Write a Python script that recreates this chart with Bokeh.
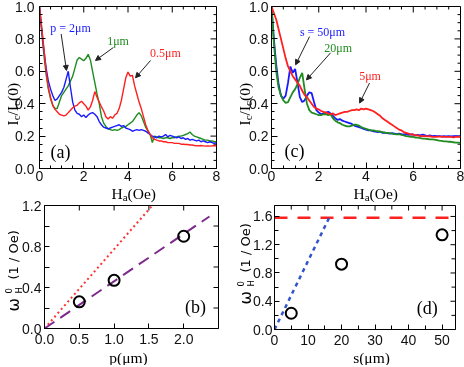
from math import pi
from bokeh.plotting import figure
from bokeh.layouts import row, column
from bokeh.models import (Range1d, FixedTicker, Label, Arrow, NormalHead, PrintfTickFormatter)
from bokeh.embed import file_html
from bokeh.resources import INLINE

# ---------------- data ----------------
H_OE = [0.0, 0.1, 0.2, 0.3, 0.4, 0.5, 0.6, 0.7, 0.8, 0.9,
        1.0, 1.1, 1.2, 1.3, 1.4, 1.5, 1.6, 1.7, 1.8, 1.9,
        2.0, 2.1, 2.2, 2.3, 2.4, 2.5, 2.6, 2.7, 2.8, 2.9,
        3.0, 3.1, 3.2, 3.3, 3.4, 3.5, 3.6, 3.7, 3.8, 3.9,
        4.0, 4.1, 4.2, 4.3, 4.4, 4.5, 4.6, 4.7, 4.8, 4.9,
        5.0, 5.1, 5.2, 5.3, 5.4, 5.5, 5.6, 5.7, 5.8, 5.9,
        6.0, 6.1, 6.2, 6.3, 6.4, 6.5, 6.6, 6.7, 6.8, 6.9,
        7.0, 7.1, 7.2, 7.3, 7.4, 7.5, 7.6, 7.7, 7.8, 7.9, 8.0]

# panel (a): Ic/Ic(0) for p = 2, 1, 0.5 um
IC_P2 = [1.00, 0.86, 0.73, 0.62, 0.54, 0.49, 0.45, 0.42, 0.43, 0.45,
         0.47, 0.50, 0.55, 0.60, 0.50, 0.41, 0.36, 0.34, 0.335, 0.32,
         0.33, 0.315, 0.33, 0.34, 0.345, 0.335, 0.32, 0.29, 0.27, 0.255,
         0.25, 0.245, 0.25, 0.255, 0.26, 0.265, 0.27, 0.26, 0.265, 0.25,
         0.245, 0.24, 0.23, 0.235, 0.24, 0.235, 0.24, 0.235, 0.23, 0.22,
         0.21, 0.20, 0.195, 0.19, 0.20, 0.195, 0.20, 0.21, 0.195, 0.205,
         0.20, 0.195, 0.19, 0.195, 0.185, 0.19, 0.18, 0.185, 0.175, 0.18,
         0.175, 0.17, 0.175, 0.165, 0.17, 0.165, 0.16, 0.165, 0.16, 0.155, 0.16]
IC_P1 = [1.00, 0.84, 0.70, 0.58, 0.49, 0.43, 0.39, 0.37, 0.37, 0.41,
         0.45, 0.47, 0.49, 0.51, 0.54, 0.57, 0.62, 0.67, 0.685, 0.675,
         0.665, 0.68, 0.705, 0.67, 0.60, 0.53, 0.46, 0.40, 0.32, 0.28,
         0.26, 0.245, 0.24, 0.235, 0.24, 0.235, 0.24, 0.25, 0.255, 0.26,
         0.27, 0.28, 0.29, 0.31, 0.33, 0.345, 0.325, 0.29, 0.255, 0.23,
         0.21, 0.16, 0.20, 0.195, 0.19, 0.19, 0.185, 0.19, 0.19, 0.185,
         0.19, 0.19, 0.195, 0.20, 0.20, 0.205, 0.21, 0.215, 0.225, 0.21,
         0.20, 0.195, 0.19, 0.185, 0.18, 0.175, 0.175, 0.17, 0.17, 0.165, 0.165]
IC_P05 = [1.00, 0.87, 0.74, 0.60, 0.50, 0.44, 0.39, 0.365, 0.35, 0.335,
          0.33, 0.325, 0.33, 0.345, 0.36, 0.375, 0.385, 0.39, 0.405, 0.415,
          0.40, 0.385, 0.36, 0.38, 0.42, 0.475, 0.44, 0.41, 0.38, 0.355,
          0.32, 0.305, 0.32, 0.31, 0.33, 0.34, 0.37, 0.42, 0.49, 0.56,
          0.595, 0.57, 0.575, 0.51, 0.46, 0.41, 0.37, 0.32, 0.27, 0.235,
          0.21, 0.19, 0.18, 0.175, 0.17, 0.17, 0.165, 0.165, 0.16, 0.16,
          0.16, 0.155, 0.155, 0.155, 0.15, 0.15, 0.148, 0.148, 0.145, 0.145,
          0.142, 0.14, 0.14, 0.142, 0.14, 0.138, 0.14, 0.138, 0.14, 0.142, 0.14]

# panel (c): Ic/Ic(0) for s = 50, 20, 5 um
IC_S50 = [1.00, 0.80, 0.64, 0.52, 0.45, 0.43, 0.45, 0.53, 0.63, 0.59,
          0.615, 0.53, 0.44, 0.41, 0.42, 0.45, 0.47, 0.465, 0.41, 0.36,
          0.345, 0.335, 0.34, 0.345, 0.35, 0.34, 0.325, 0.31, 0.30, 0.305,
          0.295, 0.29, 0.285, 0.28, 0.275, 0.265, 0.26, 0.255, 0.25, 0.245,
          0.24, 0.235, 0.235, 0.23, 0.228, 0.225, 0.228, 0.22, 0.222, 0.218,
          0.215, 0.218, 0.215, 0.212, 0.215, 0.212, 0.21, 0.212, 0.208, 0.21,
          0.21, 0.205, 0.208, 0.205, 0.21, 0.205, 0.20, 0.205, 0.20, 0.202,
          0.20, 0.20, 0.198, 0.20, 0.198, 0.20, 0.198, 0.20, 0.20, 0.198, 0.20]
IC_S20 = [1.00, 0.78, 0.60, 0.50, 0.45, 0.42, 0.405, 0.41, 0.44, 0.47,
          0.49, 0.52, 0.56, 0.59, 0.49, 0.40, 0.36, 0.345, 0.34, 0.335,
          0.33, 0.33, 0.335, 0.335, 0.33, 0.335, 0.31, 0.295, 0.285, 0.28,
          0.27, 0.265, 0.26, 0.26, 0.265, 0.27, 0.27, 0.265, 0.255, 0.25,
          0.245, 0.24, 0.235, 0.235, 0.232, 0.23, 0.228, 0.225, 0.222, 0.22,
          0.218, 0.215, 0.212, 0.21, 0.212, 0.208, 0.205, 0.20, 0.198, 0.195,
          0.195, 0.19, 0.19, 0.188, 0.185, 0.185, 0.182, 0.18, 0.18, 0.178,
          0.175, 0.172, 0.17, 0.168, 0.168, 0.165, 0.165, 0.162, 0.16, 0.16, 0.158]
IC_S5 = [1.00, 0.96, 0.92, 0.86, 0.80, 0.74, 0.68, 0.63, 0.60, 0.57,
         0.55, 0.53, 0.51, 0.48, 0.455, 0.44, 0.42, 0.40, 0.38, 0.37,
         0.365, 0.355, 0.35, 0.345, 0.34, 0.335, 0.34, 0.33, 0.335, 0.34,
         0.345, 0.35, 0.35, 0.355, 0.36, 0.36, 0.365, 0.36, 0.37, 0.365,
         0.37, 0.365, 0.36, 0.355, 0.345, 0.335, 0.325, 0.31, 0.30, 0.29,
         0.28, 0.27, 0.26, 0.25, 0.24, 0.235, 0.225, 0.22, 0.215, 0.21,
         0.21, 0.205, 0.205, 0.20, 0.20, 0.20, 0.198, 0.20, 0.195, 0.195,
         0.195, 0.198, 0.195, 0.195, 0.195, 0.195, 0.195, 0.192, 0.195, 0.195, 0.195]

# panel (b): omega_H^0 vs p
P_UM = [0.5, 1.0, 2.0]
OMEGA_P = [0.26, 0.47, 0.90]
P_STEEP_X = [0.0, 1.55]
P_STEEP_Y = [0.0, 1.2]
P_FIT_X = [0.0, 2.37]
P_FIT_Y = [0.0, 1.093]

# panel (d): omega_H^0 vs s
S_UM = [5, 20, 50]
OMEGA_S = [0.23, 0.925, 1.34]
S_FIT_X = [0.0, 16.3]
S_FIT_Y = [0.0, 1.58]
S_LIMIT_X = [0.0, 54.0]
S_LIMIT_Y = [1.58, 1.58]

# tick positions
H_MAJOR = [0, 2, 4, 6, 8]
IC_MAJOR = [0.0, 0.2, 0.4, 0.6, 0.8, 1.0]
P_MAJOR = [0.0, 0.5, 1.0, 1.5, 2.0]
OM_MAJOR_B = [0.0, 0.4, 0.8, 1.2]
S_MAJOR = [0, 10, 20, 30, 40, 50]
OM_MAJOR_D = [0.0, 0.4, 0.8, 1.2, 1.6]

BLUE = "#1a1aff"
GREEN = "#1f8c1f"
RED = "#ff1f1f"
SANS = "Liberation Sans"
SERIF = "Liberation Serif"

PAGE_W, PAGE_H = 464, 365


def minors(major, n_between, upper):
    if n_between == 0:
        return []
    step = (major[1] - major[0]) / (n_between + 1)
    out = []
    k = 1
    while major[0] + k * step <= upper + 1e-9:
        if k % (n_between + 1):
            out.append(round(major[0] + k * step, 6))
        k += 1
    return out


def make_panel(x_end, y_end, fw, fh, bl, br, bt, bb, xmaj, xn, ymaj, yn, xfmt, yfmt,
               xstand, ystand, maj, mn):
    p = figure(x_range=Range1d(0, x_end), y_range=Range1d(0, y_end),
               frame_width=fw, frame_height=fh,
               min_border_left=bl, min_border_right=br,
               min_border_top=bt, min_border_bottom=bb,
               output_backend="svg", toolbar_location=None)
    p.grid.visible = False
    p.outline_line_color = "black"
    p.outline_line_width = 1
    p.background_fill_color = "white"
    p.border_fill_alpha = 0.0
    xmin = minors(xmaj, xn, x_end)
    ymin = minors(ymaj, yn, y_end)
    bottom = p.below[0]
    left = p.left[0]
    for ax, mj, mi, fmt in ((bottom, xmaj, xmin, xfmt), (left, ymaj, ymin, yfmt)):
        ax.ticker = FixedTicker(ticks=mj, minor_ticks=mi)
        ax.formatter = fmt
        ax.major_tick_in = maj
        ax.major_tick_out = 0
        ax.minor_tick_in = mn
        ax.minor_tick_out = 0
        ax.axis_line_color = "black"
        ax.major_tick_line_color = "black"
        ax.minor_tick_line_color = "black"
        ax.major_label_text_font = SANS
        ax.major_label_text_font_size = "14px"
        ax.major_label_text_color = "#111111"
    bottom.major_label_standoff = xstand
    left.major_label_standoff = ystand
    # inward ticks along the top and right edges of the frame
    sx = fw / x_end
    sy = fh / y_end
    for ticks, length in ((list(xmaj), maj), (xmin, mn)):
        if ticks:
            p.segment(x0=ticks, y0=[y_end] * len(ticks), x1=ticks,
                      y1=[y_end - length / sy] * len(ticks), line_color="black", line_width=1)
    for ticks, length in ((list(ymaj), maj), (ymin, mn)):
        if ticks:
            p.segment(x0=[x_end] * len(ticks), y0=ticks, x1=[x_end - length / sx] * len(ticks),
                      y1=ticks, line_color="black", line_width=1)
    return p


def note(p, x, y, text, color, size=12):
    p.add_layout(Label(x=x, y=y, text=text, text_color=color, text_font=SERIF,
                       text_font_size=f"{size}px", text_align="center",
                       text_baseline="middle"))


def arrow(p, xs, ys, xe, ye):
    p.add_layout(Arrow(x_start=xs, y_start=ys, x_end=xe, y_end=ye, line_width=1,
                       line_color="#222222",
                       end=NormalHead(size=5, fill_color="#222222", line_color="#222222")))


f1 = PrintfTickFormatter(format="%.1f")
f0 = PrintfTickFormatter(format="%d")

# ---------- panel (a) ----------
pa = make_panel(8, 1.0, 177, 162, 39, 5, 6, 29, H_MAJOR, 3, IC_MAJOR, 3,
                f0, f1, 2, 5, 6, 3)
pa.line(H_OE, IC_P1, color=GREEN, line_width=1.4)
pa.line(H_OE, IC_P2, color=BLUE, line_width=1.4)
pa.line(H_OE, IC_P05, color=RED, line_width=1.4)
note(pa, 1.40, 0.87, "p = 2\u03bcm", BLUE)
note(pa, 3.55, 0.79, "1\u03bcm", GREEN)
note(pa, 5.69, 0.716, "0.5\u03bcm", RED)
arrow(pa, 0.98, 0.83, 1.22, 0.605)
arrow(pa, 3.34, 0.747, 2.53, 0.667)
arrow(pa, 5.02, 0.667, 4.34, 0.56)
note(pa, 0.95, 0.10, "(a)", "black", 18)

# ---------- panel (c) ----------
pc = make_panel(8, 1.0, 189, 162, 50, 4, 6, 29, H_MAJOR, 3, IC_MAJOR, 3,
                f0, f1, 2, 3, 6, 3)
pc.line(H_OE, IC_S50, color=BLUE, line_width=1.8)
pc.line(H_OE, IC_S20, color=GREEN, line_width=1.8)
pc.line(H_OE, IC_S5, color=RED, line_width=1.8)
note(pc, 2.16, 0.845, "s = 50\u03bcm", BLUE)
note(pc, 2.82, 0.745, "20\u03bcm", GREEN)
note(pc, 4.17, 0.571, "5\u03bcm", RED)
arrow(pc, 1.61, 0.814, 1.02, 0.64)
arrow(pc, 2.50, 0.714, 1.48, 0.547)
arrow(pc, 4.15, 0.528, 3.73, 0.404)
note(pc, 0.97, 0.11, "(c)", "black", 18)

# ---------- panel (b) ----------
pb = make_panel(2.5, 1.2, 174, 123, 44, 2, 8, 37, P_MAJOR, 0, OM_MAJOR_B, 1,
                f1, f1, 5, 3, 5, 5)
pb.line(P_STEEP_X, P_STEEP_Y, color="#ff3333", line_width=2, line_dash="2 3")
pb.line(P_FIT_X, P_FIT_Y, color="#7e2a8c", line_width=2, line_dash="12 7")
pb.scatter(P_UM, OMEGA_P, marker="circle", size=11, fill_color=None,
           line_color="black", line_width=2)
note(pb, 2.17, 0.205, "(b)", "black", 18)

# ---------- panel (d) ----------
pd_ = make_panel(54, 1.755, 181, 124, 54, 7, 7, 37, S_MAJOR, 1, OM_MAJOR_D, 1,
                 f0, f1, 5, 2, 5, 4)
pd_.line(S_LIMIT_X, S_LIMIT_Y, color="#ff2020", line_width=2.5, line_dash="13 10")
pd_.line(S_FIT_X, S_FIT_Y, color="#3355cc", line_width=2.5, line_dash="4 4")
pd_.scatter(S_UM, OMEGA_S, marker="circle", size=11, fill_color=None,
            line_color="black", line_width=2)
note(pd_, 45.6, 0.30, "(d)", "black", 18)

panels = column(row(pa, pc), row(pb, pd_))

# ---------- transparent overlay carrying the axis titles (page pixel coordinates) ----------
ov = figure(width=PAGE_W, height=PAGE_H, x_range=Range1d(0, PAGE_W), y_range=Range1d(0, PAGE_H),
            x_axis_type=None, y_axis_type=None, min_border=0, title=None,
            output_backend="svg", toolbar_location=None)
ov.grid.visible = False
ov.outline_line_color = None
ov.background_fill_alpha = 0.0
ov.border_fill_alpha = 0.0
ov.margin = (-PAGE_H, 0, 0, 0)


def put(px, py, text, size, font, angle=0.0, align="left"):
    ov.add_layout(Label(x=px, y=PAGE_H - py, text=text, text_font=font,
                        text_font_size=f"{size}px", text_color="black", angle=angle,
                        text_align=align, text_baseline="alphabetic"))


def vertical_ic_title(bx, y0):
    pieces = [("I", 15.5, 0.0, 5.2), ("c", 11, 3.2, 4.9), ("/I", 15.5, 0.0, 9.5),
              ("c", 11, 3.2, 4.9), ("(0)", 15.5, 0.0, 18.1)]
    y = y0
    for t, s, sh, adv in pieces:
        put(bx + sh, y, t, s, SERIF, angle=pi / 2)
        y -= adv


def ha_title(x0, by):
    pieces = [("H", 15.5, 0.0, 11.2), ("a", 11, 3.5, 4.9), ("(Oe)", 15.5, 0.0, 28.4)]
    x = x0
    for t, s, sh, adv in pieces:
        put(x, by + sh, t, s, SERIF)
        x += adv


def omega_title(bx, yw, yh, yr):
    put(bx, yw, "\u03c9", 16, "DejaVu Sans", angle=pi / 2)
    put(bx + 5, yh, "H", 8.5, "DejaVu Sans", angle=pi / 2)
    put(bx - 5.5, yh, "0", 8.5, "DejaVu Sans", angle=pi / 2)
    put(bx, yr, "(1 / Oe)", 13, "DejaVu Sans", angle=pi / 2)


vertical_ic_title(12, 125)
vertical_ic_title(244, 125)
ha_title(111, 193)
ha_title(353, 193)
omega_title(13, 311, 293, 279)
omega_title(245, 304, 286, 272)
put(128, 357, "p(\u03bcm)", 15.5, SERIF, align="center")
put(371, 357, "s(\u03bcm)", 15.5, SERIF, align="center")

root = column(panels, ov)
# pin the whole chart to the top-left corner of the window, whatever the body margin is
root.styles = {"position": "fixed", "left": "0px", "top": "0px"}
open("out.html", "w").write(file_html(root, INLINE))
